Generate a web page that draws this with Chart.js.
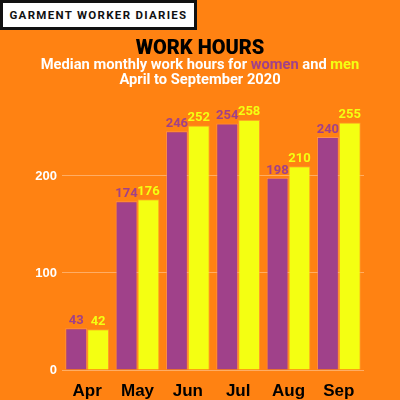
<!DOCTYPE html>
<html>
<head>
<meta charset="utf-8">
<script src="https://cdn.jsdelivr.net/npm/chart.js@4"></script>
<style>
  html, body { margin: 0; padding: 0; }
  body { width: 400px; height: 400px; background: #ff8212; position: relative; overflow: hidden; font-family: Roboto, "Liberation Sans", sans-serif; }
  #brand {
    position: absolute; left: 0; top: 0; width: 191px; height: 24px;
    background: #fff; border: 3px solid #111; white-space: nowrap; overflow: hidden;
    font-family: Roboto, sans-serif; font-weight: bold;
    font-size: 11.5px; letter-spacing: 1.3px; line-height: 24px; text-align: center; color: #111;
  }
  #title { position: absolute; top: 35px; left: 0; width: 400px; text-align: center; font-weight: 900; font-size: 20px; color: #000; }
  #sub { position: absolute; top: 57px; left: 0; width: 400px; text-align: center; font-weight: bold; font-size: 14.7px; line-height: 15px; color: #fff; }
  .w { color: #a0418a; }
  .m { color: #f4ff12; }
  #wrap { position: absolute; left: 0; top: 0; width: 400px; height: 400px; }
</style>
</head>
<body>
<div id="wrap"><canvas id="chart" width="400" height="400"></canvas></div>
<div id="brand">GARMENT WORKER DIARIES</div>
<div id="title">WORK HOURS</div>
<div id="sub">Median monthly work hours for <span class="w">women</span> and <span class="m">men</span><br>April to September 2020</div>
<script>
const months = ['Apr', 'May', 'Jun', 'Jul', 'Aug', 'Sep'];
const women = [43, 174, 246, 254, 198, 240];
const men = [42, 176, 252, 258, 210, 255];
const yTicks = [0, 100, 200];

const purple = '#a0418a';
const yellow = '#f4ff12';

// draw value labels above each bar
const valueLabels = {
    id: 'valueLabels',
    afterDatasetsDraw(chart) {
        const ctx = chart.ctx;
        ctx.save();
        ctx.font = 'bold 13px Roboto, sans-serif';
        ctx.textAlign = 'center';
        ctx.textBaseline = 'bottom';
        chart.data.datasets.forEach((ds, i) => {
            chart.getDatasetMeta(i).data.forEach((bar, j) => {
                ctx.fillStyle = ds.labelColor;
                ctx.fillText(ds.data[j], bar.x, bar.y - 1);
            });
        });
        ctx.restore();
    }
};

new Chart(document.getElementById('chart'), {
    type: 'bar',
    data: {
        labels: months,
        datasets: [
            { label: 'women', data: women, backgroundColor: purple, labelColor: purple, borderColor: 'rgba(255,160,120,0.5)', borderWidth: 1 },
            { label: 'men', data: men, backgroundColor: yellow, labelColor: yellow, borderColor: 'rgba(255,170,60,0.6)', borderWidth: 1 }
        ]
    },
    options: {
        responsive: false,
        animation: false,
        layout: { padding: { top: 108, right: 36, left: 0, bottom: 0 } },
        categoryPercentage: 0.87,
        barPercentage: 1.0,
        plugins: { legend: { display: false }, tooltip: { enabled: false } },
        scales: {
            x: {
                grid: { display: false },
                border: { display: false },
                ticks: { color: '#000', font: { weight: 'bold', size: 17 }, padding: 3 },
                afterFit: (s) => { s.height = 30; }
            },
            y: {
                min: 0,
                max: 270,
                border: { display: false },
                grid: { color: 'rgba(255,255,255,0.35)', drawTicks: false },
                afterBuildTicks: (axis) => { axis.ticks = yTicks.map(v => ({ value: v })); },
                ticks: { color: '#fff', font: { weight: 'bold', size: 13 }, padding: 5 },
                afterFit: (s) => { s.width = 62; }
            }
        }
    },
    plugins: [valueLabels]
});
</script>
</body>
</html>
